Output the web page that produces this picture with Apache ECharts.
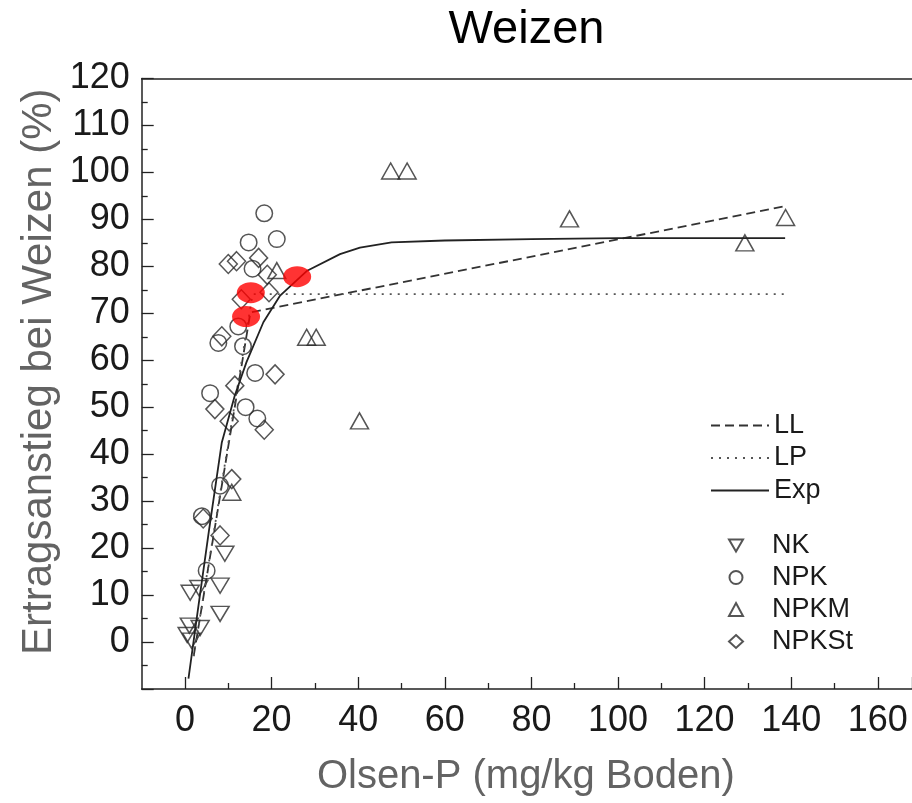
<!DOCTYPE html>
<html><head><meta charset="utf-8">
<script src="https://cdn.jsdelivr.net/npm/echarts@6/dist/echarts.min.js"></script>
<style>html,body{margin:0;padding:0;background:#fff}#c{width:912px;height:803px}</style>
</head><body><div id="c"></div>
<script>
// ---------- texts ----------
const titleText = 'Weizen';
const xAxisName = 'Olsen-P (mg/kg Boden)';
const yAxisName = 'Ertragsanstieg bei Weizen (%)';
const xTickLabels = [0, 20, 40, 60, 80, 100, 120, 140, 160];
const yTickLabels = [0, 10, 20, 30, 40, 50, 60, 70, 80, 90, 100, 110, 120];
const lineNames = ['LL', 'LP', 'Exp'];
const groupNames = ['NK', 'NPK', 'NPKM', 'NPKSt'];

// ---------- data (Olsen-P, yield increase %) ----------
const nkData = [[9.2,18.8],[8.1,12.0],[3.2,11.5],[1.2,10.5],[8.1,6.0],[3.5,3.0],[1.0,3.5],[0.5,1.5],[1.5,0.3]];
const npkData = [[18.3,91.3],[21.2,85.8],[14.7,85.1],[15.6,79.5],[12.3,67.2],[7.7,63.7],[13.4,63.0],
  [16.2,57.3],[5.8,53.0],[14.0,50.0],[16.7,47.6],[8.1,33.3],[3.9,26.8],[5.0,15.2]];
const npkmData = [[21.2,79.1],[10.8,31.9],[28.1,64.9],[30.3,64.9],[40.3,47.1],[47.5,100.3],[51.3,100.3],
  [88.8,90.1],[129.3,85.0],[138.7,90.4]];
const npkstData = [[10.0,80.5],[11.9,81.1],[17.0,81.8],[19.0,78.2],[19.4,74.5],[13.0,73.0],[8.5,65.1],
  [11.5,54.6],[20.8,57.0],[6.9,49.6],[10.2,47.0],[18.3,45.2],[10.8,34.7],[4.2,26.3],[8.1,22.7]];
const llCurve = [[2.0,-3.0],[15.1,70.2],[138.6,92.8]];
const lpCurve = [[2.0,-3.0],[15.6,74.1],[138.6,74.1]];
const expCurve = [[0.8,-7.8],[3.0,7.0],[5.5,23.5],[8.5,42.5],[11.5,52.5],[14.2,59.6],[18.1,68.1],
  [21.9,73.7],[28.1,79.0],[35.8,82.6],[40.4,84.0],[47.7,85.1],[60,85.5],[80,85.8],[100,86.0],[138.6,86.0]];
const criticalPoints = [[15.2,74.4],[14.1,69.3],[25.9,77.8]];

// ---------- chart ----------
const FONT = 'Liberation Sans, Arial, sans-serif';
const ink = '#1a1a1a';
const markStroke = '#2a2a2a';
const chart = echarts.init(document.getElementById('c'), null, {renderer: 'canvas'});

const gridLeft = 141.7, gridTop = 78.5, gridH = 610.5, unitX = 4.33;
const xMin = -10, xMax = 167.9;

function scatter(name, data, symbol, size, rotate) {
  return {
    name, type: 'scatter', data, symbol, symbolSize: size, symbolRotate: rotate || 0,
    xAxisIndex: 0, yAxisIndex: 0,
    itemStyle: {color: 'transparent', borderColor: markStroke, borderWidth: 1.5},
    emphasis: {disabled: true}, z: 3
  };
}
function curve(name, data, type, width, color) {
  return {
    name, type: 'line', data, symbol: 'none', showSymbol: false, smooth: false,
    xAxisIndex: 0, yAxisIndex: 0,
    lineStyle: {color, width, type},
    itemStyle: {color},
    emphasis: {disabled: true}, z: 4
  };
}
const axisLineStyle = {color: '#222', width: 1.5};

const option = {
  animation: false,
  backgroundColor: '#fff',
  title: {
    text: titleText, left: 521.5, top: 2, textAlign: 'center',
    textStyle: {fontFamily: FONT, fontSize: 47, fontWeight: 'normal', color: '#000'}
  },
  grid: [
    {left: gridLeft, top: gridTop, width: (xMax - xMin) * unitX, height: gridH, show: false, outerBoundsMode: 'none'},
    {left: gridLeft + 10 * unitX, top: gridTop, width: xMax * unitX, height: gridH, show: false, outerBoundsMode: 'none'}
  ],
  xAxis: [
    {gridIndex: 0, type: 'value', min: xMin, max: xMax, position: 'bottom',
     name: xAxisName, nameLocation: 'middle', nameGap: 68, nameMoveOverlap: false,
     nameTextStyle: {fontFamily: FONT, fontSize: 40, color: '#636363', padding: [0, 2, 0, 0]},
     axisLine: {show: true, onZero: false, lineStyle: axisLineStyle},
     axisTick: {show: false}, axisLabel: {show: false}, splitLine: {show: false}},
    {gridIndex: 1, type: 'value', min: 0, max: xMax, interval: 20, position: 'bottom',
     axisLine: {show: false, onZero: false},
     axisTick: {show: true, inside: true, length: 12, lineStyle: {color: '#222', width: 1.3}},
     minorTick: {show: true, splitNumber: 2, length: 6, lineStyle: {color: '#222', width: 1.3}},
     axisLabel: {show: true, margin: 14, fontFamily: FONT, fontSize: 36, color: ink, showMaxLabel: false,
       formatter: v => xTickLabels.indexOf(v) >= 0 ? String(v) : ''},
     splitLine: {show: false}, minorSplitLine: {show: false}},
    {gridIndex: 0, type: 'value', min: xMin, max: xMax, position: 'top',
     axisLine: {show: true, onZero: false, lineStyle: axisLineStyle},
     axisTick: {show: false}, axisLabel: {show: false}, splitLine: {show: false}}
  ],
  yAxis: [
    {gridIndex: 0, type: 'value', min: -10, max: 120, interval: 10, position: 'left',
     name: yAxisName, nameLocation: 'middle', nameGap: 81, nameMoveOverlap: false,
     nameTextStyle: {fontFamily: FONT, fontSize: 42, color: '#636363', padding: [0, 0, 0, 24]},
     axisLine: {show: true, onZero: false, lineStyle: axisLineStyle},
     axisTick: {show: true, inside: true, length: 12, lineStyle: {color: '#222', width: 1.3}},
     minorTick: {show: true, splitNumber: 2, length: 6, lineStyle: {color: '#222', width: 1.3}},
     axisLabel: {show: true, margin: 12, fontFamily: FONT, fontSize: 36, color: ink,
       formatter: v => yTickLabels.indexOf(v) >= 0 ? String(v) : ''},
     splitLine: {show: false}, minorSplitLine: {show: false}},
    {gridIndex: 1, type: 'value', min: -10, max: 120, show: false, axisLine: {onZero: false}}
  ],
  legend: [
    {data: lineNames, orient: 'vertical', left: 710, top: 412, padding: 0,
     itemWidth: 58, itemHeight: 14, itemGap: 5.5,
     selectedMode: false, itemStyle: {opacity: 0},
     textStyle: {fontFamily: FONT, fontSize: 27, color: ink}},
    {data: [
       {name: 'NK', icon: 'path://M0,0 L20,0 L10,17 Z'},
       {name: 'NPK'}, {name: 'NPKM'}, {name: 'NPKSt'}],
     orient: 'vertical', left: 728, top: 532, padding: 0,
     itemWidth: 14, itemHeight: 13, itemGap: 5,
     selectedMode: false,
     textStyle: {fontFamily: FONT, fontSize: 27, color: ink, padding: [0, 0, 0, 24]}}
  ],
  series: [
    scatter('NK', nkData, 'triangle', [18, 15], 180),
    scatter('NPK', npkData, 'circle', 16.5),
    scatter('NPKM', npkmData, 'triangle', [18, 16]),
    scatter('NPKSt', npkstData, 'diamond', [18, 19]),
    curve('LL', llCurve, [9, 5], 1.8, '#333'),
    curve('LP', lpCurve, [2, 6], 1.8, '#555'),
    curve('Exp', expCurve, 'solid', 1.8, '#222'),
    {name: 'critical', type: 'scatter', data: criticalPoints, symbol: 'circle', symbolSize: [28, 21],
     xAxisIndex: 0, yAxisIndex: 0, itemStyle: {color: '#ff0000'}, emphasis: {disabled: true}, z: 10}
  ]
};
chart.setOption(option);
</script></body></html>
